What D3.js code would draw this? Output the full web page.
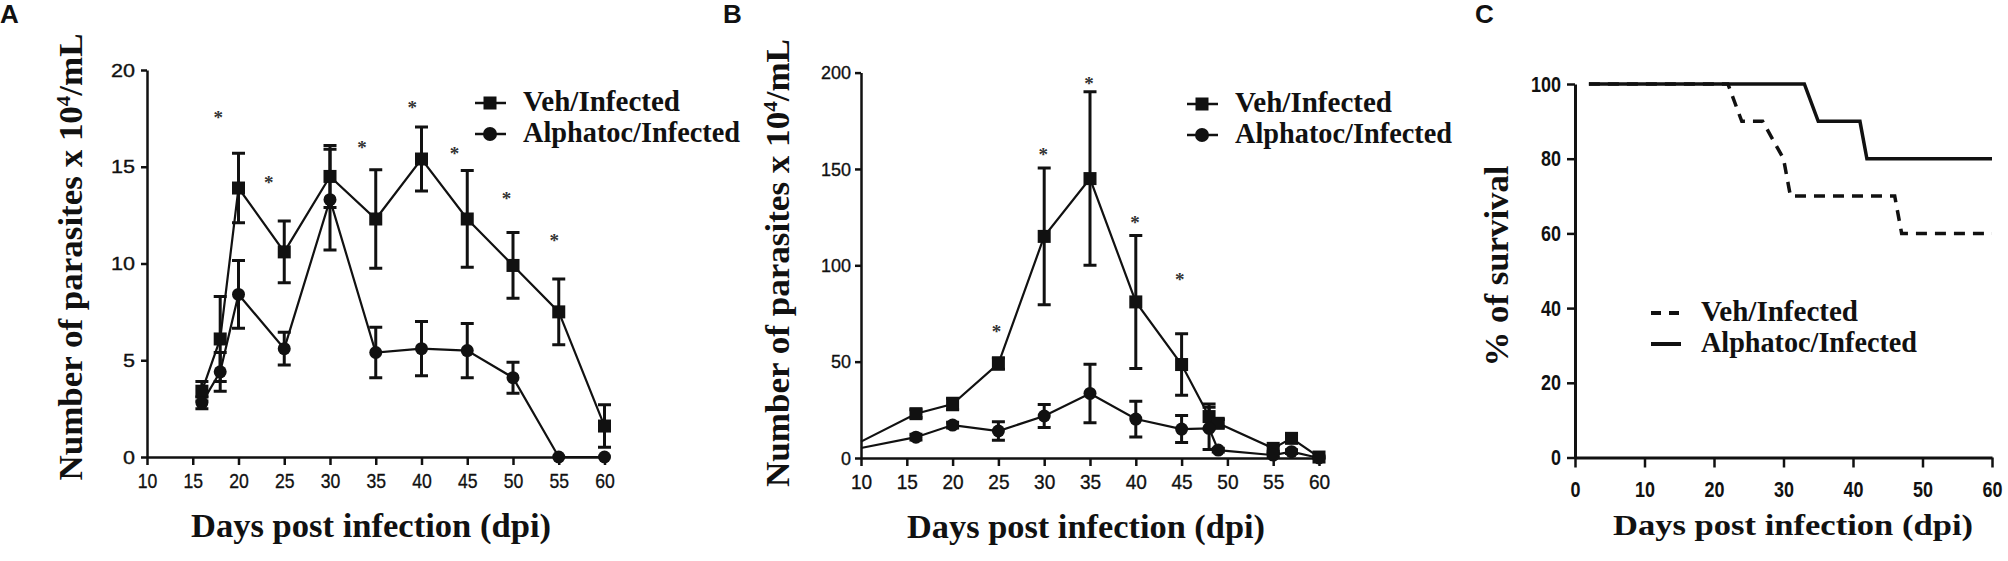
<!DOCTYPE html>
<html><head><meta charset="utf-8">
<script src="https://cdn.jsdelivr.net/npm/d3@7"></script>
<style>body{margin:0;background:#fff}</style>
</head><body>
<svg id="c" width="2008" height="561"></svg>
<script>
// ---------- DATA ----------
const seriesNames = ["Veh/Infected", "Alphatoc/Infected"];

// Panel A
const daysA = [16, 18, 20, 25, 30, 35, 40, 45, 50, 55, 60];
const vehA = [3.4, 6.1, 13.9, 10.6, 14.5, 12.3, 15.4, 12.3, 9.9, 7.5, 1.6];
const vehAErr = [0.5, 2.2, 1.8, 1.6, 1.6, 2.55, 1.65, 2.5, 1.7, 1.7, 1.1];
const alphaA = [2.8, 4.4, 8.4, 5.6, 13.3, 5.4, 5.6, 5.5, 4.1, 0, 0];
const alphaAErr = [0.3, 1.0, 1.75, 0.85, 2.6, 1.3, 1.4, 1.4, 0.8, 0, 0];
const starsADays = [17.8, 23.3, 33.5, 39, 43.6, 49.3, 54.5];
const starsAVals = [17.7, 14.3, 16.1, 18.2, 15.8, 13.5, 11.3];
const xTicksA = [10, 15, 20, 25, 30, 35, 40, 45, 50, 55, 60];
const yTicksA = [0, 5, 10, 15, 20];

// Panel B
const daysB = [10, 16, 20, 25, 30, 35, 40, 45, 48, 49, 55, 57, 60];
const vehB = [8.5, 23, 28, 49, 115, 145, 81, 48.5, 21.5, 18, 5, 10.2, 0.5];
const vehBErr = [0, 2, 3, 3, 35.5, 45, 34.5, 16, 6.5, 2, 1.5, 2, 0.5];
const alphaB = [5.2, 10.8, 17.1, 14, 21.8, 33.5, 20.2, 15, 15.4, 4.1, 1.5, 3.3, 0];
const alphaBErr = [0, 1.5, 1.5, 4.8, 6, 15.2, 9.3, 7, 11, 1, 1, 1, 0];
const starsBDays = [24.8, 29.9, 34.9, 39.9, 44.8];
const starsBVals = [66.8, 158.8, 195.9, 123.5, 93.8];
const xTicksB = [10, 15, 20, 25, 30, 35, 40, 45, 50, 55, 60];
const yTicksB = [0, 50, 100, 150, 200];

// Panel C (survival)
const vehCDays = [2, 22, 24, 27, 30, 31, 46, 47, 60];
const vehCVals = [100, 100, 90, 90, 80, 70, 70, 60, 60];
const alphaCDays = [2, 33, 35, 41, 42, 60];
const alphaCVals = [100, 100, 90, 90, 80, 80];
const xTicksC = [0, 10, 20, 30, 40, 50, 60];
const yTicksC = [0, 20, 40, 60, 80, 100];

// ---------- DRAW ----------
const svg = d3.select("#c");
const SERIF = "'Liberation Serif','Times New Roman',serif";
const SANS = "'Liberation Sans',Arial,sans-serif";
const INK = "#111";

function panelLabel(txt, x) {
  svg.append("text").attr("x", x).attr("y", 23).text(txt)
    .attr("font-family", SANS).attr("font-weight", "bold").attr("font-size", 26).attr("fill", INK);
}

function yTitle(parts, bx, cy, size, len) {
  const t = svg.append("text")
    .attr("transform", `translate(${bx},${cy}) rotate(-90)`)
    .attr("text-anchor", "middle")
    .attr("font-family", SERIF).attr("font-weight", "bold").attr("font-size", size)
    .attr("fill", INK).attr("textLength", len).attr("lengthAdjust", "spacingAndGlyphs");
  parts.forEach(p => {
    const s = t.append("tspan").text(p.t);
    if (p.sup) s.attr("dy", -12).attr("font-size", size * 0.6);
    if (p.after) s.attr("dy", 12);
  });
}

function xTitle(cx, by, size, len) {
  svg.append("text").attr("x", cx).attr("y", by).attr("text-anchor", "middle")
    .attr("font-family", SERIF).attr("font-weight", "bold").attr("font-size", size)
    .attr("fill", INK).attr("textLength", len).attr("lengthAdjust", "spacingAndGlyphs")
    .text("Days post infection (dpi)");
}

function styleAxis(g, size, weight, digitW) {
  g.select(".domain").attr("stroke", INK).attr("stroke-width", 2.5);
  g.selectAll(".tick line").attr("stroke", INK).attr("stroke-width", 2.5);
  g.selectAll(".tick text").attr("font-family", SANS).attr("font-size", size)
    .attr("font-weight", weight).attr("fill", INK)
    .attr("stroke", INK).attr("stroke-width", weight === "bold" ? 0 : 0.35)
    .attr("textLength", function () { return this.textContent.length * digitW; })
    .attr("lengthAdjust", "spacingAndGlyphs");
}

function parasitePanel(o) {
  const x = d3.scaleLinear().domain([10, 60]).range(o.xr);
  const y = d3.scaleLinear().domain([0, o.ymax]).range(o.yr);
  const g = svg.append("g");

  const gy = g.append("g").attr("transform", `translate(${o.xr[0]},0)`)
    .call(d3.axisLeft(y).tickValues(o.yTicks).tickSize(6).tickPadding(o.yPad).tickSizeOuter(0));
  styleAxis(gy, o.yFontSize, "normal", o.yDigitW);
  const gx = g.append("g").attr("transform", `translate(0,${o.yr[0]})`)
    .call(d3.axisBottom(x).tickValues(o.xTicks).tickSize(8).tickPadding(8).tickSizeOuter(0));
  styleAxis(gx, 21, "normal", o.xDigitW);

  const line = d3.line().x(d => x(d[0])).y(d => y(d[1]));
  const sets = [
    { v: o.veh, e: o.vehErr, shape: "square" },
    { v: o.alpha, e: o.alphaErr, shape: "circle" }
  ];
  sets.forEach(s => {
    const pts = o.days.map((d, i) => ({ d, v: s.v[i], e: s.e[i] }));
    g.append("path").datum(pts.map(p => [p.d, p.v])).attr("d", line)
      .attr("fill", "none").attr("stroke", INK).attr("stroke-width", 2.2);
    g.append("g").selectAll("path").data(pts.filter(p => p.e > 0)).join("path")
      .attr("d", p => {
        const cx = x(p.d), lo = y(Math.max(0, p.v - p.e)), hi = y(p.v + p.e);
        return `M${cx},${lo}V${hi}M${cx - 6.5},${hi}h13M${cx - 6.5},${lo}h13`;
      })
      .attr("fill", "none").attr("stroke", INK).attr("stroke-width", 3);
  });
  sets.forEach(s => {
    const pts = o.days.map((d, i) => ({ d, v: s.v[i] })).filter(p => p.d > 10);
    if (s.shape === "square") {
      g.append("g").selectAll("rect").data(pts).join("rect")
        .attr("x", p => x(p.d) - 6.5).attr("y", p => y(p.v) - 6.5)
        .attr("width", 13).attr("height", 13).attr("fill", INK);
    } else {
      g.append("g").selectAll("circle").data(pts).join("circle")
        .attr("cx", p => x(p.d)).attr("cy", p => y(p.v)).attr("r", 6.5).attr("fill", INK);
    }
  });
  // significance stars
  g.append("g").selectAll("text").data(o.starsDays.map((d, i) => [d, o.starsVals[i]])).join("text")
    .attr("x", d => x(d[0])).attr("y", d => y(d[1]) + 9).attr("text-anchor", "middle")
    .attr("font-family", SERIF).attr("font-weight", "bold").attr("font-size", 19)
    .attr("fill", "#333").text("*");

  // legend
  const lg = g.append("g");
  [0, 1].forEach(i => {
    const ly = o.legY + i * 31;
    lg.append("line").attr("x1", o.legX - 15).attr("x2", o.legX + 16).attr("y1", ly).attr("y2", ly)
      .attr("stroke", INK).attr("stroke-width", 2.5);
    if (i === 0) lg.append("rect").attr("x", o.legX - 6.5).attr("y", ly - 6.5).attr("width", 13).attr("height", 13).attr("fill", INK);
    else lg.append("circle").attr("cx", o.legX).attr("cy", ly).attr("r", 7).attr("fill", INK);
    lg.append("text").attr("x", o.legX + 33).attr("y", ly + 8)
      .attr("font-family", SERIF).attr("font-weight", "bold").attr("font-size", 29).attr("fill", INK)
      .attr("textLength", i === 0 ? 157 : 217).attr("lengthAdjust", "spacingAndGlyphs")
      .text(seriesNames[i]);
  });
}

// Panel A
panelLabel("A", 0);
parasitePanel({
  xr: [147, 604.5], yr: [457, 70], ymax: 20,
  xTicks: xTicksA, yTicks: yTicksA, yPad: 6, yFontSize: 19, yDigitW: 12, xDigitW: 9.8,
  days: daysA, veh: vehA, vehErr: vehAErr, alpha: alphaA, alphaErr: alphaAErr,
  starsDays: starsADays, starsVals: starsAVals, legX: 490, legY: 103
});
yTitle([{ t: "Number of parasites x 10" }, { t: "4", sup: true }, { t: "/mL", after: true }], 82, 257, 33, 447);
xTitle(371, 537, 33, 360);

// Panel B
panelLabel("B", 723);
parasitePanel({
  xr: [861, 1319], yr: [458, 72.6], ymax: 200,
  xTicks: xTicksB, yTicks: yTicksB, yPad: 4, yFontSize: 19, yDigitW: 10, xDigitW: 10.6,
  days: daysB, veh: vehB, vehErr: vehBErr, alpha: alphaB, alphaErr: alphaBErr,
  starsDays: starsBDays, starsVals: starsBVals, legX: 1202, legY: 104
});
yTitle([{ t: "Number of parasites x 10" }, { t: "4", sup: true }, { t: "/mL", after: true }], 789, 263, 33, 448);
xTitle(1086, 538, 33, 358);

// Panel C
panelLabel("C", 1475);
(function () {
  const x = d3.scaleLinear().domain([0, 60]).range([1575, 1992]);
  const y = d3.scaleLinear().domain([0, 100]).range([457.5, 84]);
  const g = svg.append("g");
  const gy = g.append("g").attr("transform", `translate(1575,0)`)
    .call(d3.axisLeft(y).tickValues(yTicksC).tickSize(8).tickPadding(6).tickSizeOuter(0));
  styleAxis(gy, 22, "bold", 10);
  const gx = g.append("g").attr("transform", `translate(0,457.5)`)
    .call(d3.axisBottom(x).tickValues(xTicksC).tickSize(10).tickPadding(14).tickSizeOuter(0));
  styleAxis(gx, 22, "bold", 10);
  gx.select(".domain").attr("stroke-width", 3);
  gy.select(".domain").attr("stroke-width", 3);

  const line = d3.line().x(d => x(d[0])).y(d => y(d[1]));
  g.append("path").datum(alphaCDays.map((d, i) => [d, alphaCVals[i]])).attr("d", line)
    .attr("fill", "none").attr("stroke", INK).attr("stroke-width", 3.5);
  g.append("path").datum(vehCDays.map((d, i) => [d, vehCVals[i]])).attr("d", line)
    .attr("fill", "none").attr("stroke", INK).attr("stroke-width", 3.5).attr("stroke-dasharray", "11 8");

  const lg = g.append("g");
  [0, 1].forEach(i => {
    const ly = 313 + i * 31;
    lg.append("line").attr("x1", 1651).attr("x2", 1681).attr("y1", ly).attr("y2", ly)
      .attr("stroke", INK).attr("stroke-width", 4)
      .attr("stroke-dasharray", i === 0 ? "10 8" : null);
    lg.append("text").attr("x", 1701).attr("y", ly + 8)
      .attr("font-family", SERIF).attr("font-weight", "bold").attr("font-size", 29).attr("fill", INK)
      .attr("textLength", i === 0 ? 157 : 216).attr("lengthAdjust", "spacingAndGlyphs")
      .text(seriesNames[i]);
  });
})();
yTitle([{ t: "% of survival" }], 1508, 266, 34, 201);
xTitle(1793, 535, 29, 360);
</script>
</body></html>
